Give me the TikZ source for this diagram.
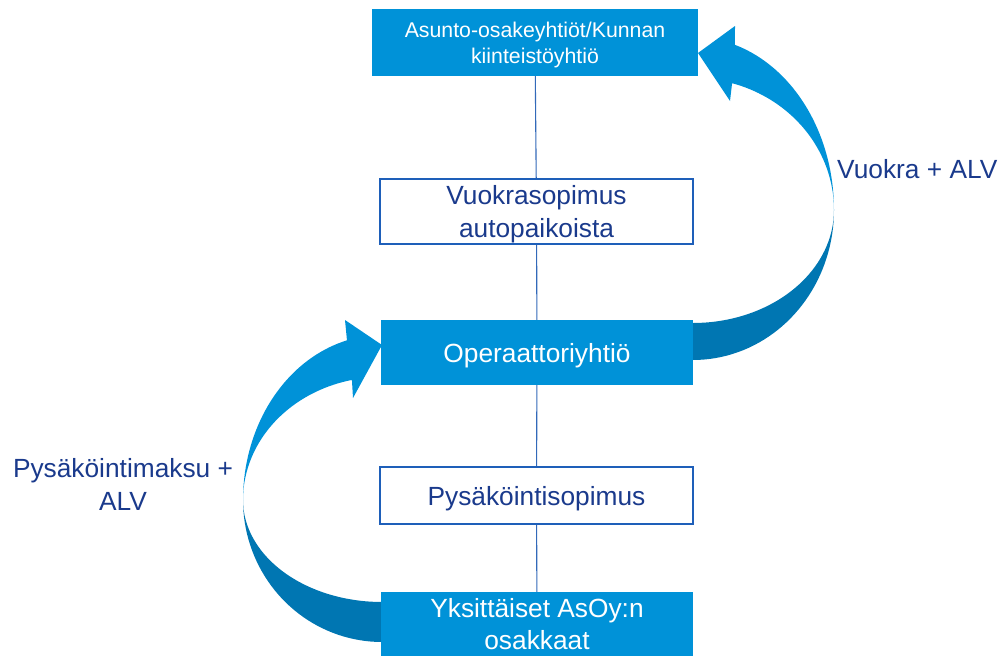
\documentclass[tikz,border=0pt]{standalone}
\usepackage{fontspec}
\setmainfont{Liberation Sans}
\usetikzlibrary{backgrounds}
\definecolor{boxblue}{RGB}{0,146,216}
\definecolor{darkblue}{RGB}{0,118,178}
\definecolor{navy}{RGB}{26,58,140}
\definecolor{edgeblue}{RGB}{30,95,185}
\definecolor{lineblue}{RGB}{50,105,185}
\tikzset{
  filledbox/.style={fill=boxblue, draw=none, inner sep=0pt, align=center, text=white, text depth=0pt,
    font=\fontsize{26.3}{32.6}\selectfont},
  outlinebox/.style={fill=white, draw=edgeblue, line width=2pt, inner sep=0pt, align=center, text=navy, text depth=0pt,
    font=\fontsize{26.3}{32.6}\selectfont},
  lbl/.style={text=navy, inner sep=0pt, align=center, font=\fontsize{26.3}{33}\selectfont},
  conn/.style={draw=lineblue, line width=1.1pt},
  frontside/.style={fill=boxblue},
  backside/.style={fill=darkblue}
}
\begin{document}
\begin{tikzpicture}[x=1pt,y=-1pt]
\useasboundingbox (0,0) rectangle (1001,656);
\node[filledbox, minimum width=326pt, minimum height=67pt, font=\fontsize{21.3}{25.6}\selectfont] (b1) at (535,42.5) {Asunto-osakeyhtiöt/Kunnan\\kiinteistöyhtiö};
\node[outlinebox, minimum width=313pt, minimum height=65pt] (b2) at (536.5,211.5) {Vuokrasopimus\\autopaikoista};
\node[filledbox, minimum width=312pt, minimum height=65pt] (b3) at (537,352.5) {Operaattoriyhtiö};
\node[outlinebox, minimum width=313pt, minimum height=57pt] (b4) at (536.5,495.5) {Pysäköintisopimus};
\node[filledbox, minimum width=312pt, minimum height=64pt] (b5) at (537,624) {Yksittäiset AsOy:n\\osakkaat};
\node[lbl, anchor=base west] (l1) at (837,178) {Vuokra + ALV};
\node[lbl, anchor=base] (l2) at (123,510.7) {Pysäköintimaksu +\\ALV};
\begin{scope}[on background layer]
  \draw[conn] (b1) -- (b2);
  \draw[conn] (b2) -- (b3);
  \draw[conn] (b3) -- (b4);
  \draw[conn] (b4) -- (b5);
  % right curved arrow (Operaattoriyhtiö -> top)
  \fill[backside] plot[domain=0:90,samples=40] ({693+141*cos(\x)},{210+150*sin(\x)})
     -- plot[domain=90:0,samples=40] ({693+141*cos(\x)},{210+113*sin(\x)}) -- cycle;
  \fill[frontside] plot[domain=0:72.7,samples=40] ({693+141*cos(\x)},{210-173*sin(\x)})
     -- (735,26) -- (698,53) -- (730,101)
     -- plot[domain=73.9:0,samples=40] ({693+141*cos(\x)},{210-132*sin(\x)}) -- cycle;
  % left curved arrow (bottom -> Operaattoriyhtiö)
  \fill[backside] plot[domain=0:90,samples=40] ({382-139*cos(\x)},{500+142*sin(\x)})
     -- plot[domain=90:0,samples=40] ({382-139*cos(\x)},{500+102*sin(\x)}) -- cycle;
  \fill[frontside] plot[domain=0:75.4,samples=40] ({382-139*cos(\x)},{500-165*sin(\x)})
     -- (345,320) -- (382,345) -- (353,398)
     -- plot[domain=77.5:0,samples=40] ({382-139*cos(\x)},{500-123*sin(\x)}) -- cycle;
\end{scope}
\end{tikzpicture}
\end{document}
